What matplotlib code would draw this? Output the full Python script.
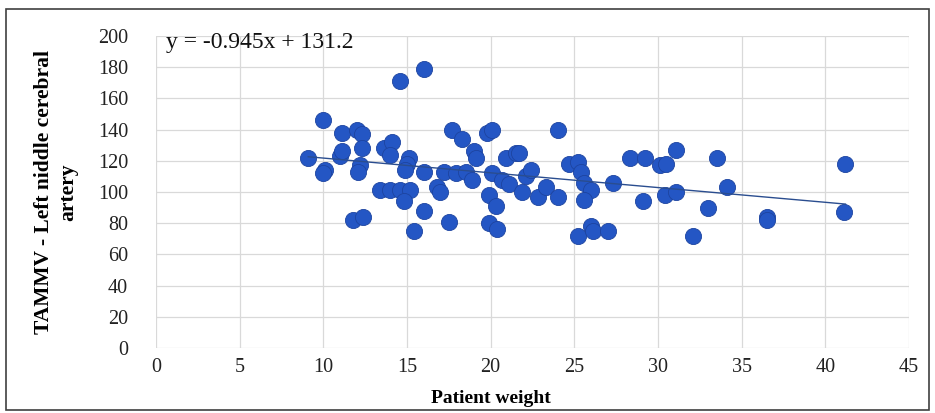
import matplotlib
matplotlib.use('Agg')
import matplotlib.pyplot as plt
import numpy as np
from matplotlib.patches import Rectangle

plt.rcParams['font.family'] = ['Liberation Serif', 'DejaVu Serif']

# patient weight (x) and TAMMV (y)
weight = [9.1, 10.0, 10.1, 10.0, 11.0, 11.1, 11.1, 12.0, 12.3, 12.3,
          12.2, 12.1, 11.8, 12.4, 13.4, 14.0, 14.6, 15.2, 14.8, 13.6,
          14.1, 14.0, 14.6, 16.0, 15.1, 15.0, 14.9, 16.0, 16.8, 17.0,
          16.0, 15.4, 17.7, 18.3, 17.2, 17.9, 18.5, 18.9, 17.5, 19.0,
          19.1, 19.8, 20.1, 20.9, 21.5, 21.7, 20.1, 20.7, 21.1, 19.9,
          20.3, 19.9, 20.4, 22.1, 22.4, 21.9, 22.8, 23.3, 24.0, 24.0,
          24.7, 25.2, 25.4, 25.6, 26.0, 25.6, 27.3, 25.2, 26.0, 26.1,
          27.0, 28.3, 29.2, 29.1, 30.1, 30.5, 31.1, 33.5, 34.1, 30.4,
          31.1, 33.0, 32.1, 36.5, 36.5, 41.2, 41.1]
tammv = [122, 146, 114, 112, 123, 126, 138, 140, 137, 128,
         117, 113, 82, 84, 101, 101, 101, 101, 94, 128,
         132, 124, 171, 179, 122, 118, 114, 113, 103, 100,
         88, 75, 140, 134, 113, 112, 113, 108, 81, 126,
         122, 138, 140, 122, 125, 125, 112, 108, 105, 98,
         91, 80, 76, 110, 114, 100, 97, 103, 97, 140,
         118, 119, 113, 106, 101, 95, 106, 72, 78, 75,
         75, 122, 122, 94, 117, 118, 127, 122, 103, 98,
         100, 90, 72, 84, 82, 118, 87]

slope = -0.945
intercept = 131.2

fig = plt.figure(figsize=(9.35, 4.13), dpi=100)
fig.patches.append(Rectangle((0.006, 0.008), 0.988, 0.97, transform=fig.transFigure,
                             fill=False, edgecolor='#404040', linewidth=1.2))

ax = fig.add_axes([0.1668, 0.1574, 0.8054, 0.7554])
ax.set_xlim(0, 45)
ax.set_ylim(0, 200)
ax.set_xticks(range(0, 46, 5))
ax.set_yticks(range(0, 201, 20))
ax.grid(True, color='#d9d9d9', linewidth=0.9)
ax.set_axisbelow(True)
for s in ax.spines.values():
    s.set_visible(False)
ax.tick_params(length=0, labelsize=14.5, colors='#222222')
ax.tick_params(axis='y', pad=20)
ax.tick_params(axis='x', pad=7)

ax.scatter(weight, tammv, s=135, color='#2456c4', edgecolors='#1d44a0',
           linewidths=0.6, zorder=3)

xs = np.array([min(weight), max(weight)])
ax.plot(xs, slope * xs + intercept, color='#2a4d8f', linewidth=1.0, zorder=4)

ax.text(0.6, 202.5, 'y = -0.945x + 131.2', fontsize=17, va='top', ha='left',
        color='#111111')

ax.set_xlabel('Patient weight', fontsize=14, fontweight='bold', labelpad=10)
ax.xaxis.set_label_coords(0.445, -0.135)
ax.set_ylabel('TAMMV - Left niddle cerebral\nartery', fontsize=15.5,
              fontweight='bold', labelpad=14, linespacing=1.3)

fig.savefig('out.png', dpi=100)
